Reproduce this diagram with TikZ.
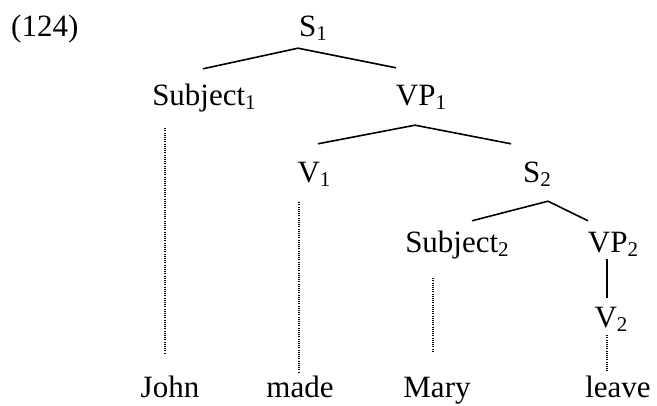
\documentclass[tikz,border=0pt]{standalone}
\usepackage{fontspec}
\setmainfont{Liberation Serif}
\newcommand{\subidx}[1]{\raisebox{-4pt}{\fontsize{21}{21}\selectfont #1}}

\begin{document}
\begin{tikzpicture}[x=1pt,y=1pt]

      \useasboundingbox (0,0) rectangle (657,406);

      \begin{scope}[every node/.style={anchor=base, inner sep=0pt, text height=21pt, text depth=7pt, font=\fontsize{31}{37}\selectfont}]
        \node[anchor=base west] (ex) at (11,369) {(124)};
        \node (S1)    at (313,369) {S\subidx{1}};
        \node (Subj1) at (204,300) {Subject\subidx{1}};
        \node (VP1)   at (421,300) {VP\subidx{1}};
        \node (V1)    at (314,223) {V\subidx{1}};
        \node (S2)    at (537,223) {S\subidx{2}};
        \node (Subj2) at (457,153) {Subject\subidx{2}};
        \node (VP2)   at (613,153) {VP\subidx{2}};
        \node (V2)    at (611,78)  {V\subidx{2}};
        \node (John)  at (170,8)   {John};
        \node (made)  at (300,8)   {made};
        \node (Mary)  at (437,8)   {Mary};
        \node (leave) at (618,8)   {leave};
      \end{scope}

      \begin{scope}[every edge/.style={draw, line width=1.6pt}]
        \path ([shift={(-15,-4)}]S1.south)  edge ([shift={(-1,16)}]Subj1.north);
        \path ([shift={(-15,-4)}]S1.south)  edge ([shift={(-25,17)}]VP1.north);
        \path ([shift={(-6,-12)}]VP1.south) edge ([shift={(4,18)}]V1.north);
        \path ([shift={(-6,-12)}]VP1.south) edge ([shift={(-26,18)}]S2.north);
        \path ([shift={(11,-11)}]S2.south)  edge ([shift={(15,11)}]Subj2.north);
        \path ([shift={(11,-11)}]S2.south)  edge ([shift={(-25,11)}]VP2.north);
        \path ([shift={(-6,1)}]VP2.south)   edge ([shift={(-4,9)}]V2.north);
      \end{scope}

      \begin{scope}[every edge/.style={draw, line width=1.1pt, dash pattern=on 1.1pt off 1.1pt}]
        \path ([shift={(-39,-15)}]Subj1.south) edge ([shift={(-5,24)}]John.north);
        \path ([shift={(-15,-12)}]V1.south)    edge ([shift={(-1,5)}]made.north);
        \path ([shift={(-24,-18)}]Subj2.south) edge ([shift={(-4,24)}]Mary.north);
        \path ([shift={(-4,0)}]V2.south)       edge ([shift={(-11,5)}]leave.north);
      \end{scope}

    \end{tikzpicture}
\end{document}
